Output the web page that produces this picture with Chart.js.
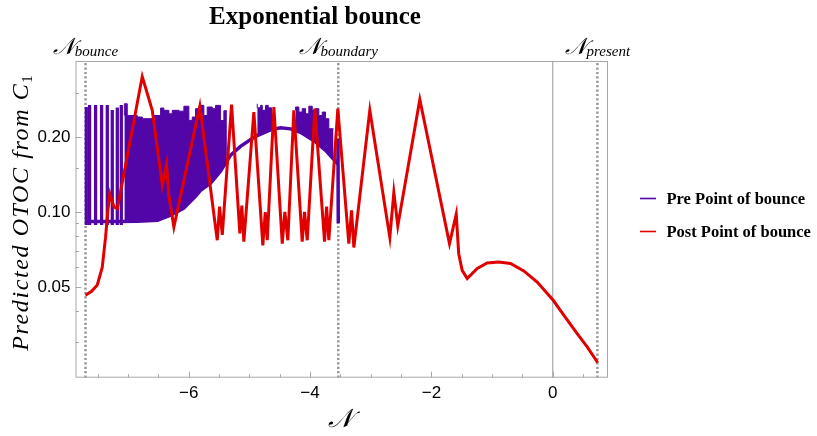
<!DOCTYPE html>
<html lang="en">
  <head>
    <title>Exponential bounce</title>
    <script src="https://cdn.jsdelivr.net/npm/chart.js"></script>
    <style>
      body { margin: 0; background: #ffffff; }
      #wrap { width: 817px; height: 436px; position: relative; }
    </style>
  </head>
  <body>
    <div id="wrap"><canvas id="bounceChart"></canvas></div>
    <script>
      // Post point of bounce (red curve)
      const postX = [-7.700, -7.600, -7.506, -7.424, -7.370, -7.331, -7.298, -7.232, -7.176, -6.765,
                     -6.600, -6.435, -6.364, -6.330, -6.244, -5.816, -5.529, -5.491, -5.446, -5.293,
                     -5.157, -5.124, -5.091, -4.926, -4.778, -4.738, -4.705, -4.596, -4.458, -4.415,
                     -4.366, -4.267, -4.129, -4.091, -4.046, -3.921, -3.761, -3.728, -3.690, -3.542,
                     -3.361, -3.316, -3.278, -3.015, -2.685, -2.619, -2.554, -2.191, -1.702, -1.591,
                     -1.550, -1.493, -1.410, -1.245, -1.081, -0.890, -0.697, -0.478, -0.257, 0.007,
                     0.181, 0.402, 0.567, 0.741];
      const postY = [0.0463, 0.0480, 0.0509, 0.060, 0.079, 0.1016, 0.118, 0.105, 0.103, 0.35,
                     0.256, 0.128, 0.156, 0.118, 0.087, 0.266, 0.077, 0.105, 0.081, 0.27,
                     0.082, 0.106, 0.076, 0.252, 0.0735, 0.100, 0.077, 0.264, 0.0746, 0.100,
                     0.077, 0.256, 0.076, 0.100, 0.077, 0.260, 0.076, 0.105, 0.077, 0.260,
                     0.0746, 0.1016, 0.072, 0.256, 0.079, 0.120, 0.088, 0.283, 0.0746, 0.098,
                     0.068, 0.0583, 0.054, 0.0593, 0.0624, 0.063, 0.0621, 0.058, 0.0523, 0.0442,
                     0.0385, 0.0325, 0.0287, 0.0248];

      // Pre point of bounce: lower envelope of the oscillation, then the final drop
      const preX = [-7.690, -7.200, -6.842, -6.513, -6.299, -6.085, -5.888, -5.805, -5.640, -5.476,
                    -5.311, -5.146, -4.899, -4.652, -4.486, -4.321, -4.156, -3.909, -3.744, -3.580,
                    -3.553, -3.540, -3.535];
      const preY = [0.0915, 0.0915, 0.0918, 0.0926, 0.097, 0.1035, 0.1156, 0.1222, 0.1304, 0.1457,
                    0.1689, 0.1835, 0.2013, 0.2138, 0.2177, 0.2157, 0.2089, 0.1913, 0.1769, 0.1598,
                    0.157, 0.197, 0.090];

      // Pre: separate spikes next to N_bounce
      const spikeX = [-7.687, -7.633, -7.534, -7.435, -7.341, -7.259, -7.176, -7.110];
      const spikeTop = [0.263, 0.268, 0.268, 0.268, 0.268, 0.256, 0.262, 0.268];
      const spikeLow = [0.089, 0.089, 0.089, 0.089, 0.089, 0.089, 0.089, 0.089];

      // Pre: ragged top of the dense (filled) stretches
      const bandAX = [-7.060, -7.012, -6.847, -6.764, -6.573, -6.463, -6.409, -6.326, -6.270, -6.161,
                      -6.079, -5.997, -5.941, -5.886, -5.804, -5.750, -5.694, -5.611, -5.557, -5.474,
                      -5.420, -5.370];
      const bandAY = [0.244, 0.272, 0.244, 0.2406, 0.237, 0.244, 0.2615, 0.256, 0.248, 0.256,
                      0.254, 0.266, 0.2334, 0.2406, 0.260, 0.268, 0.244, 0.264, 0.260, 0.268,
                      0.233, 0.255];
      const bandBX = [-4.870, -4.815, -4.787, -4.733, -4.689, -4.634, -4.606, -4.596];
      const bandBY = [0.272, 0.262, 0.268, 0.256, 0.268, 0.262, 0.244, 0.244];
      const bandCX = [-4.239, -4.184, -4.129, -4.074, -4.020, -3.964, -3.909, -3.855, -3.799, -3.745,
                      -3.690, -3.634, -3.613];
      const bandCY = [0.256, 0.264, 0.252, 0.260, 0.248, 0.266, 0.256, 0.260, 0.244, 0.252,
                      0.237, 0.216, 0.216];

      // vertical markers
      const markerNames = ["bounce", "boundary", "present"];
      const markerX = [-7.700, -3.535, 0.735];

      // axes
      const xMin = -7.865, xMax = 0.91;
      const yMin = 0.0216, yMax = 0.404;
      const xTicks = [-6, -4, -2, 0];
      const xMinorTicks = [-7.5, -7, -6.5, -5.5, -5, -4.5, -3.5, -3, -2.5, -1.5, -1, -0.5, 0.5];
      const yTicks = [0.05, 0.1, 0.2];
      const yTickLabels = ["0.05", "0.10", "0.20"];
      const yMinorTicks = [0.03, 0.04, 0.06, 0.07, 0.08, 0.09, 0.15, 0.3];

      const PURPLE = "#5206a8";
      const RED = "#e10000";
      const GRAY = "#999999";

      const pts = (xs, ys) => xs.map((x, i) => ({x: x, y: ys[i]}));

      function bandDataset(xs, ys) {
        return {
          data: pts(xs, ys),
          stepped: "after",
          borderColor: PURPLE,
          backgroundColor: PURPLE,
          borderWidth: 1,
          pointRadius: 0,
          fill: 1,
          order: 2
        };
      }

      function vline(x, dashed) {
        return {
          data: [{x: x, y: yMin}, {x: x, y: yMax}],
          borderColor: GRAY,
          borderWidth: dashed ? 2.5 : 1,
          borderDash: dashed ? [2.2, 2.2] : [],
          pointRadius: 0,
          fill: false,
          order: 5
        };
      }

      const frameAndLabels = {
        id: "frameAndLabels",
        afterDatasetsDraw(chart) {
          const ctx = chart.ctx;
          const a = chart.chartArea;
          const xs = chart.scales.x, ys = chart.scales.y;
          ctx.save();
          ctx.strokeStyle = "#a8a8a8";
          ctx.lineWidth = 1;
          ctx.strokeRect(a.left + 0.5, a.top + 0.5, a.right - a.left - 1, a.bottom - a.top - 1);
          ctx.beginPath();
          xTicks.forEach(v => { const p = Math.round(xs.getPixelForValue(v)) + 0.5; ctx.moveTo(p, a.bottom); ctx.lineTo(p, a.bottom - 6); });
          xMinorTicks.forEach(v => { const p = Math.round(xs.getPixelForValue(v)) + 0.5; ctx.moveTo(p, a.bottom); ctx.lineTo(p, a.bottom - 3.5); });
          yTicks.forEach(v => { const p = Math.round(ys.getPixelForValue(v)) + 0.5; ctx.moveTo(a.left, p); ctx.lineTo(a.left + 6, p); });
          yMinorTicks.forEach(v => { const p = Math.round(ys.getPixelForValue(v)) + 0.5; ctx.moveTo(a.left, p); ctx.lineTo(a.left + 3.5, p); });
          ctx.stroke();
          ctx.restore();
        },
        afterDraw(chart) {
          const ctx = chart.ctx;
          const xs = chart.scales.x;
          ctx.save();
          ctx.fillStyle = "#000";

          // title
          ctx.font = "bold 25px 'Liberation Serif'";
          ctx.textAlign = "center";
          ctx.textBaseline = "alphabetic";
          ctx.fillText("Exponential bounce", 315, 24);

          // marker labels
          markerNames.forEach((name, i) => {
            const px = xs.getPixelForValue(markerX[i]);
            ctx.font = "italic 23px 'Liberation Serif'";
            const wN = ctx.measureText("\u{1D4A9}").width;
            ctx.font = "italic 15px 'Liberation Serif'";
            const wS = ctx.measureText(name).width;
            const x0 = px - (wN + wS) / 2;
            ctx.textAlign = "left";
            ctx.font = "italic 23px 'Liberation Serif'";
            ctx.fillText("\u{1D4A9}", x0, 54);
            ctx.font = "italic 15px 'Liberation Serif'";
            ctx.fillText(name, x0 + wN, 56);
          });

          // x title
          ctx.textAlign = "center";
          ctx.font = "italic 26px 'Liberation Serif'";
          ctx.fillText("\u{1D4A9}", xs.getPixelForValue(-3.5), 427);

          // y title
          ctx.save();
          ctx.translate(28, 213);
          ctx.rotate(-Math.PI / 2);
          ctx.font = "italic 24px 'Liberation Serif'";
          ctx.letterSpacing = "1.6px";
          const main = "Predicted OTOC from C";
          const wMain = ctx.measureText(main).width;
          ctx.letterSpacing = "0px";
          ctx.font = "15px 'Liberation Serif'";
          const wSub = ctx.measureText("1").width;
          const start = -(wMain + wSub) / 2;
          ctx.textAlign = "left";
          ctx.font = "italic 24px 'Liberation Serif'";
          ctx.letterSpacing = "1.6px";
          ctx.fillText(main, start, 0);
          ctx.letterSpacing = "0px";
          ctx.font = "15px 'Liberation Serif'";
          ctx.fillText("1", start + wMain, 4);
          ctx.restore();

          // legend
          const items = [["Pre Point of bounce", PURPLE], ["Post Point of bounce", RED]];
          items.forEach((it, i) => {
            const y = 198.5 + i * 33;
            ctx.strokeStyle = it[1];
            ctx.lineWidth = 1.6;
            ctx.beginPath();
            ctx.moveTo(640, y);
            ctx.lineTo(656, y);
            ctx.stroke();
            ctx.font = "bold 16.5px 'Liberation Serif'";
            ctx.textAlign = "left";
            ctx.textBaseline = "middle";
            ctx.fillText(it[0], 666.5, y + 1);
          });
          ctx.restore();
        }
      };

      const ctx = document.getElementById("bounceChart").getContext("2d");
      const bounceChart = new Chart(ctx, {
        type: "line",
        data: {
          datasets: [
            {
              label: "Post Point of bounce",
              data: pts(postX, postY),
              borderColor: RED,
              borderWidth: 3,
              borderJoinStyle: "miter",
              pointRadius: 0,
              tension: 0,
              fill: false,
              order: 0
            },
            {
              label: "Pre Point of bounce",
              data: pts(preX, preY),
              borderColor: PURPLE,
              borderWidth: 3.5,
              pointRadius: 0,
              tension: 0,
              fill: false,
              order: 1
            },
            {
              type: "bar",
              data: spikeX.map((x, i) => ({x: x, y: [spikeLow[i], spikeTop[i]]})),
              backgroundColor: PURPLE,
              barThickness: 2.6,
              grouped: false,
              order: 2
            },
            bandDataset(bandAX, bandAY),
            bandDataset(bandBX, bandBY),
            bandDataset(bandCX, bandCY),
            vline(markerX[0], true),
            vline(markerX[1], true),
            vline(markerX[2], true),
            vline(0, false)
          ]
        },
        options: {
          responsive: true,
          maintainAspectRatio: false,
          animation: false,
          events: [],
          layout: { padding: { left: 0, right: 209, top: 61, bottom: 0 } },
          plugins: {
            legend: { display: false },
            title: { display: false },
            tooltip: { enabled: false }
          },
          scales: {
            x: {
              type: "linear",
              min: xMin,
              max: xMax,
              offset: false,
              grid: { display: false, drawTicks: false },
              border: { display: false },
              afterBuildTicks: s => { s.ticks = xTicks.map(v => ({value: v})); },
              afterFit: s => { s.height = 58.3; },
              ticks: {
                autoSkip: false,
                maxRotation: 0,
                padding: 5,
                color: "#000",
                font: { family: "'Liberation Sans'", size: 17 },
                callback: v => (v < 0 ? "\u2212" + Math.abs(v) : String(v))
              }
            },
            y: {
              type: "logarithmic",
              min: yMin,
              max: yMax,
              grid: { display: false, drawTicks: false },
              border: { display: false },
              afterBuildTicks: s => { s.ticks = yTicks.map(v => ({value: v})); },
              afterFit: s => { s.width = 75.5; },
              ticks: {
                autoSkip: false,
                padding: 5,
                color: "#000",
                font: { family: "'Liberation Sans'", size: 17 },
                callback: v => yTickLabels[yTicks.indexOf(v)]
              }
            }
          }
        },
        plugins: [frameAndLabels]
      });
    </script>
  </body>
</html>
